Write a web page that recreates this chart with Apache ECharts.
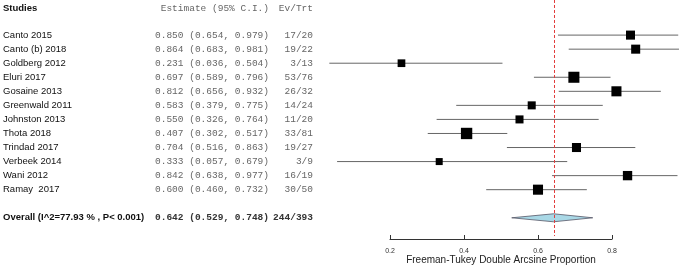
<!DOCTYPE html>
<html>
<head>
<meta charset="utf-8">
<script src="https://cdn.jsdelivr.net/npm/echarts@6/dist/echarts.min.js"></script>
<style>
  html, body { margin: 0; padding: 0; background: #fff; }
  #chart { width: 680px; height: 268px; }
</style>
</head>
<body>
<div id="chart"></div>
<script>
// study data
const studies = ['Canto 2015', 'Canto (b) 2018', 'Goldberg 2012', 'Eluri 2017', 'Gosaine 2013',
  'Greenwald 2011', 'Johnston 2013', 'Thota 2018', 'Trindad 2017', 'Verbeek 2014', 'Wani 2012', 'Ramay  2017']
const estimate = [0.850, 0.864, 0.231, 0.697, 0.812, 0.583, 0.550, 0.407, 0.704, 0.333, 0.842, 0.600]
const lower = [0.654, 0.683, 0.036, 0.589, 0.656, 0.379, 0.326, 0.302, 0.516, 0.057, 0.638, 0.460]
const upper = [0.979, 0.981, 0.504, 0.796, 0.932, 0.775, 0.764, 0.517, 0.863, 0.679, 0.977, 0.732]
const events = [17, 19, 3, 53, 26, 14, 11, 33, 19, 3, 16, 30]
const totals = [20, 22, 13, 76, 32, 24, 20, 81, 27, 9, 19, 50]
const weights = [8.0, 8.0, 5.8, 11.9, 9.9, 6.3, 6.3, 12.6, 8.0, 4.8, 8.5, 9.9]

const overallLabel = 'Overall (I^2=77.93 % , P< 0.001)'
const overall = [0.642, 0.529, 0.748]
const overallEv = [244, 393]

const xTicks = [0.2, 0.4, 0.6, 0.8]
const xTitle = 'Freeman-Tukey Double Arcsine Proportion'

const chart = echarts.init(document.getElementById('chart'))

const overallRow = studies.length + 1
const headerRow = -1.9
const monoFont = '9.5px "Liberation Mono", "DejaVu Sans Mono", monospace'
const sansFont = '9.5px "Liberation Sans", Arial, sans-serif'
const boldFont = 'bold 9.5px "Liberation Sans", Arial, sans-serif'
const monoBold = 'bold 9.5px "Liberation Mono", "DejaVu Sans Mono", monospace'

const fmt = (v) => v.toFixed(3)

// one row of the left-hand table
const rowText = (y, name, est, ev, bold) => [
  { type: 'text', style: { x: 3, y: y, text: name, font: bold ? boldFont : sansFont, fill: '#111', verticalAlign: 'middle' } },
  { type: 'text', style: { x: 155, y: y, text: est, font: bold ? monoBold : monoFont, fill: bold ? '#333' : '#666', verticalAlign: 'middle' } },
  { type: 'text', style: { x: 313, y: y, text: ev, font: bold ? monoBold : monoFont, fill: bold ? '#333' : '#666', align: 'right', verticalAlign: 'middle' } }
]

const studyData = studies.map((s, i) => [estimate[i], i, lower[i], upper[i], weights[i]])

const option = {
  animation: false,
  grid: { left: 390, right: 68, top: 7, bottom: 29, outerBoundsMode: 'none', containLabel: false },
  xAxis: {
    type: 'value',
    position: 'bottom',
    min: 0.2,
    max: 0.8,
    interval: 0.2,
    axisLine: { show: true, onZero: false, lineStyle: { color: '#333', width: 1 } },
    axisTick: { show: true, inside: true, length: 4, lineStyle: { color: '#333' } },
    axisLabel: { fontSize: 7, color: '#333', margin: 9, fontFamily: 'Liberation Sans, Arial, sans-serif', formatter: (v) => v.toFixed(1) },
    splitLine: { show: false },
    name: xTitle,
    nameLocation: 'middle',
    nameGap: 16,
    nameMoveOverlap: false,
    nameTextStyle: { fontSize: 10, color: '#222', fontFamily: 'Liberation Sans, Arial, sans-serif' }
  },
  yAxis: {
    type: 'value',
    inverse: true,
    min: -2,
    max: 14.51,
    show: false
  },
  series: [
    {
      // table text
      type: 'custom',
      clip: false,
      data: [[0]],
      renderItem: (params, api) => {
        const yOf = (r) => api.coord([0.5, r])[1]
        let children = []
        children.push({ type: 'text', style: { x: 3, y: yOf(headerRow), text: 'Studies', font: boldFont, fill: '#111', verticalAlign: 'middle' } })
        children.push({ type: 'text', style: { x: 155, y: yOf(headerRow), text: ' Estimate (95% C.I.)', font: monoFont, fill: '#666', verticalAlign: 'middle' } })
        children.push({ type: 'text', style: { x: 313, y: yOf(headerRow), text: 'Ev/Trt', font: monoFont, fill: '#666', align: 'right', verticalAlign: 'middle' } })
        studies.forEach((s, i) => {
          const est = fmt(estimate[i]) + ' (' + fmt(lower[i]) + ', ' + fmt(upper[i]) + ')'
          children = children.concat(rowText(yOf(i), s, est, events[i] + '/' + totals[i], false))
        })
        const oEst = fmt(overall[0]) + ' (' + fmt(overall[1]) + ', ' + fmt(overall[2]) + ')'
        children = children.concat(rowText(yOf(overallRow), overallLabel, oEst, overallEv[0] + '/' + overallEv[1], true))
        return { type: 'group', children: children }
      }
    },
    {
      // study CIs and weighted boxes
      type: 'custom',
      clip: false,
      data: studyData,
      renderItem: (params, api) => {
        const c = api.coord([api.value(0), api.value(1)])
        const l = api.coord([api.value(2), api.value(1)])
        const r = api.coord([api.value(3), api.value(1)])
        const size = 3.2 * Math.sqrt(api.value(4))
        return {
          type: 'group',
          children: [
            { type: 'line', shape: { x1: l[0], y1: l[1], x2: r[0], y2: r[1] }, style: { stroke: '#666', lineWidth: 1 } },
            { type: 'rect', shape: { x: c[0] - size / 2, y: c[1] - size / 2, width: size, height: size }, style: { fill: '#000' } }
          ]
        }
      }
    },
    {
      // pooled diamond
      type: 'custom',
      clip: false,
      data: [[overall[0], overallRow, overall[1], overall[2]]],
      renderItem: (params, api) => {
        const c = api.coord([api.value(0), api.value(1)])
        const l = api.coord([api.value(2), api.value(1)])
        const r = api.coord([api.value(3), api.value(1)])
        return {
          type: 'polygon',
          shape: { points: [[l[0], c[1]], [c[0], c[1] - 4], [r[0], c[1]], [c[0], c[1] + 4]] },
          style: { fill: '#a9d8e6', stroke: '#556', lineWidth: 0.8 }
        }
      }
    },
    {
      // reference line at the pooled estimate, drawn on top
      type: 'custom',
      clip: false,
      z: 10,
      data: [[overall[0]]],
      renderItem: (params, api) => {
        const top = api.coord([api.value(0), -2.5])
        const bot = api.coord([api.value(0), 14.3])
        const x = Math.round(top[0]) + 0.5
        return {
          type: 'line',
          shape: { x1: x, y1: top[1], x2: x, y2: bot[1] },
          style: { stroke: '#e23b3b', lineWidth: 1, lineDash: [3, 2], fill: null, opacity: 1 }
        }
      }
    }
  ]
}

chart.setOption(option)
</script>
</body>
</html>
